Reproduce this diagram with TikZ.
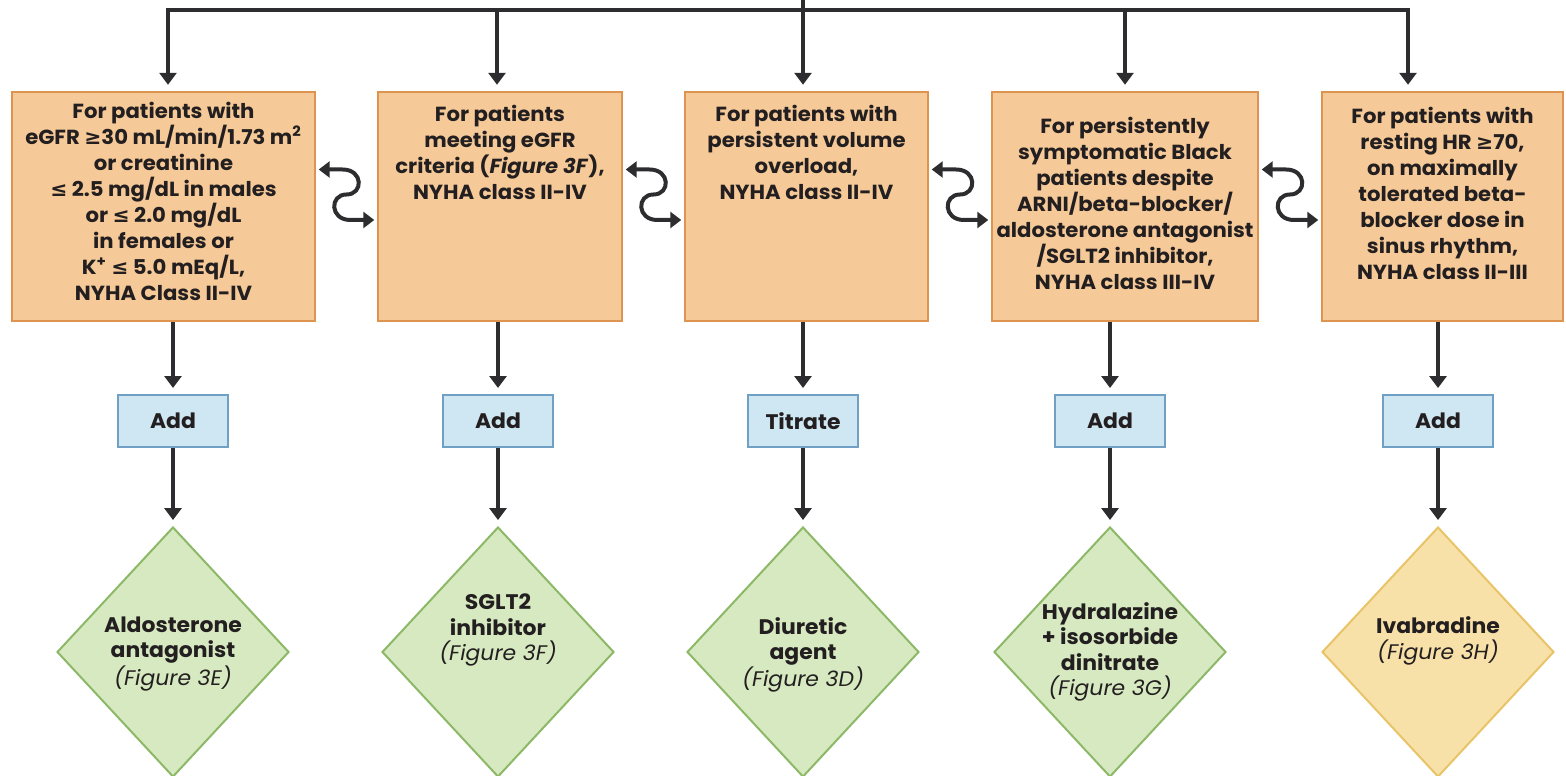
\documentclass[tikz,border=0pt]{standalone}
\usepackage{fontspec}
\setmainfont{Poppins}[FakeStretch=1.04]
\newfontfamily\symf{DejaVu Sans}
\usetikzlibrary{arrows.meta,shapes.geometric,calc}

\definecolor{lineclr}{RGB}{45,45,48}
\definecolor{txt}{RGB}{35,31,32}
\definecolor{orgfill}{RGB}{246,202,152}
\definecolor{orgline}{RGB}{220,148,80}
\definecolor{bluefill}{RGB}{206,231,243}
\definecolor{blueline}{RGB}{112,160,196}
\definecolor{greenfill}{RGB}{215,233,192}
\definecolor{greenline}{RGB}{140,184,104}
\definecolor{yelfill}{RGB}{248,225,168}
\definecolor{yelline}{RGB}{232,196,104}

\newcommand{\GEs}{{\symf ≥}}
\newcommand{\LEs}{{\symf ≤}}
\newcommand{\figtag}[1]{{\mdseries\itshape (#1)}}
% criteria text: top-aligned block inside a fixed-height box
\newcommand{\crittext}[3]{\parbox[c][4.58cm][t]{#1}{\centering\vspace{#2}#3\par}}

\tikzset{
  conn/.style={draw=lineclr, line width=0.08cm},
  arr/.style={conn, -{Triangle[width=0.34cm,length=0.24cm]}, shorten >=0.12cm},
  swaparr/.style={conn, {Triangle[width=0.32cm,length=0.22cm]}-{Triangle[width=0.32cm,length=0.22cm]},
    shorten >=0.05cm, shorten <=0.05cm},
  crit/.style={draw=orgline, fill=orgfill, line width=0.05cm, inner sep=0pt, text=txt,
    font=\bfseries\fontsize{11.6}{14.8}\selectfont},
  act/.style={draw=blueline, fill=bluefill, line width=0.04cm, minimum width=2.2cm,
    minimum height=1.04cm, inner sep=0pt, text=txt, font=\bfseries\fontsize{12}{13}\selectfont},
  drug/.style={diamond, draw=greenline, fill=greenfill, line width=0.04cm,
    minimum width=4.64cm, minimum height=5cm, inner sep=0pt},
  drugtxt/.style={align=center, text=txt, inner sep=0pt, font=\bfseries\fontsize{12}{14.4}\selectfont},
}

\newcommand{\swapconn}[2]{%
  \coordinate (m#1#2) at ($(#1.east)!0.5!(#2.west)$);
  \draw[swaparr] ($(#1.east)+(0,-37)$) -- ($(m#1#2)+(-4,-37)$)
    .. controls ($(m#1#2)+(17,-37)$) and ($(m#1#2)+(17,-12)$) .. ($(m#1#2)+(0,-12)$)
    .. controls ($(m#1#2)+(-17,-12)$) and ($(m#1#2)+(-17,13.5)$) .. ($(m#1#2)+(4,13.5)$)
    -- ($(#2.west)+(0,13.5)$);
}

\begin{document}
\begin{tikzpicture}[x=0.02cm,y=-0.02cm]
\useasboundingbox (0,0) rectangle (1566,776);

% patient criteria
\node[crit] (b1) at (163.5,206.5) {\crittext{6.06cm}{0.2cm}{For patients with\\eGFR \GEs30 mL/min/1.73 m\textsuperscript{2}\\or creatinine\\\LEs{} 2.5 mg/dL in males\\or \LEs{} 2.0 mg/dL\\in females or\\K\textsuperscript{+} \LEs{} 5.0 mEq/L,\\NYHA Class II-IV}};
\node[crit] (b2) at (500,206.5) {\crittext{4.88cm}{0.26cm}{For patients\\meeting eGFR\\criteria (\textit{Figure 3F}),\\NYHA class II-IV}};
\node[crit] (b3) at (806.5,206.5) {\crittext{4.86cm}{0.26cm}{For patients with\\persistent volume\\overload,\\NYHA class II-IV}};
\node[crit] (b4) at (1125,206.5) {\crittext{5.32cm}{0.5cm}{For persistently\\symptomatic Black\\patients despite\\ARNI/beta-blocker/\\aldosterone antagonist\\/SGLT2 inhibitor,\\NYHA class III-IV}};
\node[crit] (b5) at (1442.5,206.5) {\crittext{4.82cm}{0.3cm}{For patients with\\resting HR \GEs70,\\on maximally\\tolerated beta-\\blocker dose in\\sinus rhythm,\\NYHA class II-III}};

% actions
\node[act] (a1) at (173,421) {Add};
\node[act] (a2) at (498,421) {Add};
\node[act] (a3) at (803,421) {Titrate};
\node[act] (a4) at (1110,421) {Add};
\node[act] (a5) at (1438,421) {Add};

% therapies
\node[drug] (d1) at (173,652) {};
\node[drug] (d2) at (498,652) {};
\node[drug] (d3) at (803,652) {};
\node[drug] (d4) at (1110,652) {};
\node[drug, draw=yelline, fill=yelfill] (d5) at (1438,652) {};
\node[drugtxt] (d1t) at ($(d1)+(0,2)$) {Aldosterone\\antagonist\\\figtag{Figure 3E}};
\node[drugtxt] (d2t) at ($(d2)+(0,-22)$) {SGLT2\\inhibitor\\\figtag{Figure 3F}};
\node[drugtxt] (d3t) at ($(d3)+(0,3)$) {Diuretic\\agent\\\figtag{Figure 3D}};
\node[drugtxt] (d4t) at ($(d4)+(0,0)$) {Hydralazine\\+ isosorbide\\dinitrate\\\figtag{Figure 3G}};
\node[drugtxt] (d5t) at ($(d5)+(0,-11)$) {Ivabradine\\\figtag{Figure 3H}};

% distribution from the top
\coordinate (src) at (803,0);
\coordinate (t1) at (168,10);
\coordinate (t2) at (497,10);
\coordinate (t4) at (1125,10);
\coordinate (t5) at (1408,10);
\draw[arr] (src |- t1) -- (t1) -- (t1 |- b1.north);
\draw[arr] (src |- t1) -- (t5) -- (t5 |- b5.north);
\draw[arr] (src) -- (src |- b3.north);
\draw[arr] (t2) -- (t2 |- b2.north);
\draw[arr] (t4) -- (t4 |- b4.north);

% criteria -> action -> therapy
\foreach \i in {1,...,5}{
  \draw[arr] (a\i.north |- b\i.south) -- (a\i.north);
  \draw[arr] (a\i.south) -- (d\i.north);
}

% links between neighbouring criteria
\swapconn{b1}{b2}
\swapconn{b2}{b3}
\swapconn{b3}{b4}
\swapconn{b4}{b5}
\end{tikzpicture}
\end{document}
